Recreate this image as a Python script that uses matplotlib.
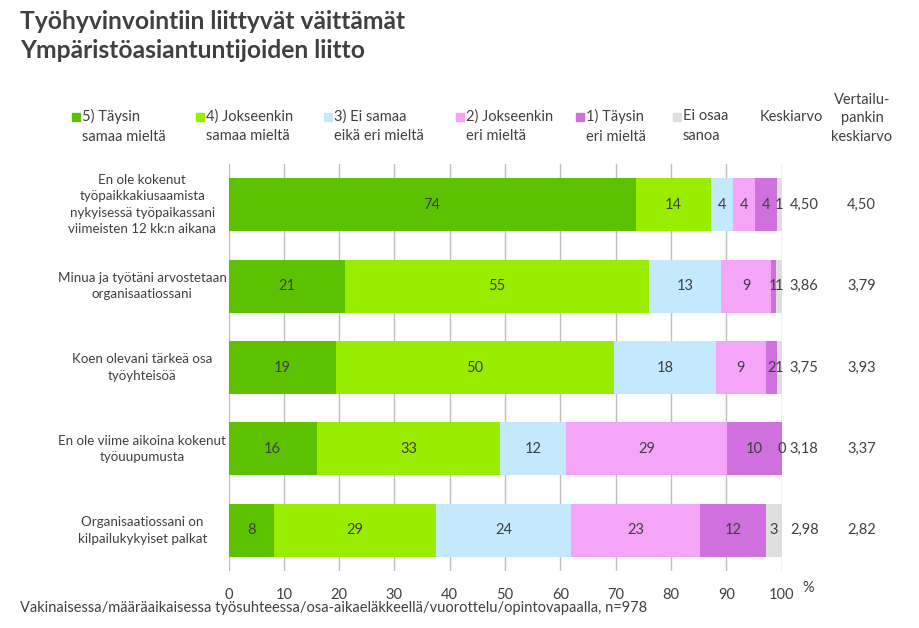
import matplotlib
matplotlib.use("Agg")
import matplotlib.pyplot as plt
from matplotlib.patches import Rectangle

plt.rcParams['font.family'] = ['Lato', 'DejaVu Sans']

categories = [
    "En ole kokenut\ntyöpaikkakiusaamista\nnykyisessä työpaikassani\nviimeisten 12 kk:n aikana",
    "Minua ja työtäni arvostetaan\norganisaatiossani",
    "Koen olevani tärkeä osa\ntyöyhteisöä",
    "En ole viime aikoina kokenut\ntyöuupumusta",
    "Organisaatiossani on\nkilpailukykyiset palkat",
]
taysin_samaa = [73.6, 21.1, 19.4, 16.0, 8.2]
jokseenkin_samaa = [13.6, 54.9, 50.4, 33.1, 29.4]
ei_samaa_eika_eri = [4.0, 13.1, 18.3, 12.0, 24.4]
jokseenkin_eri = [4.0, 9.0, 9.1, 29.1, 23.2]
taysin_eri = [3.9, 0.9, 1.9, 9.8, 12.0]
ei_osaa = [0.9, 1.0, 0.9, 0.0, 2.8]
keskiarvo = [4.50, 3.86, 3.75, 3.18, 2.98]
vertailu_keskiarvo = [4.50, 3.79, 3.93, 3.37, 2.82]

series = [taysin_samaa, jokseenkin_samaa, ei_samaa_eika_eri,
          jokseenkin_eri, taysin_eri, ei_osaa]
legend_labels = ["5) Täysin\nsamaa mieltä", "4) Jokseenkin\nsamaa mieltä",
                 "3) Ei samaa\neikä eri mieltä", "2) Jokseenkin\neri mieltä",
                 "1) Täysin\neri mieltä", "Ei osaa\nsanoa"]
colors = ["#5CC200", "#99EE00", "#C4E8FC", "#F4A5F8", "#D070DE", "#DEDEDE"]
text_color = "#404040"

W, H = 919, 628
fig = plt.figure(figsize=(W / 100, H / 100), dpi=100)
ax = fig.add_axes([228.5 / W, 1 - 571 / H, 553 / W, 407 / H])

y = list(range(len(categories)))
left = [0.0] * len(categories)
for vals, col in zip(series, colors):
    ax.barh(y, vals, left=left, height=0.65, color=col, zorder=2)
    for i, v in enumerate(vals):
        ax.text(left[i] + v / 2, i, f"{v:.0f}", ha='center', va='center',
                fontsize=10.5, color=text_color, zorder=3)
    left = [l + v for l, v in zip(left, vals)]

ax.set_xlim(0, 100)
ax.set_ylim(len(categories) - 0.5, -0.5)
ax.set_xticks(range(0, 101, 10))
ax.set_yticks([])
ax.grid(axis='x', color='#BFBFBF', linewidth=1, zorder=0)
ax.tick_params(axis='x', length=0, labelsize=10.5, labelcolor=text_color, pad=12)
for s in ax.spines.values():
    s.set_visible(False)
fig.text(808 / W, 1 - 588 / H, "%", fontsize=10.5, color=text_color, ha='center', va='center')

for i, cat in enumerate(categories):
    ax.text(-15.6, i, cat, ha='center', va='center', fontsize=9.6,
            color=text_color, linespacing=1.45, clip_on=False)
    ax.text(104.1, i, f"{keskiarvo[i]:.2f}".replace('.', ','), ha='center',
            va='center', fontsize=10.5, color=text_color, clip_on=False)
    ax.text(114.5, i, f"{vertailu_keskiarvo[i]:.2f}".replace('.', ','), ha='center',
            va='center', fontsize=10.5, color=text_color, clip_on=False)

# legend drawn by hand
sq_x = [72, 196, 324, 456, 576, 673]
for sx, lab, col in zip(sq_x, legend_labels, colors):
    fig.patches.append(Rectangle((sx / W, 1 - 121 / H), 8 / W, 8 / H,
                                 transform=fig.transFigure, color=col))
    fig.text((sx + 10) / W, 1 - 109 / H, lab, ha='left', va='top',
             fontsize=10.5, color=text_color, linespacing=1.55)
fig.text(791 / W, 1 - 117 / H, "Keskiarvo", ha='center', va='center',
         fontsize=10.5, color=text_color)
fig.text(862 / W, 1 - 93 / H, "Vertailu-\npankin\nkeskiarvo", ha='center', va='top',
         fontsize=10.5, color=text_color, linespacing=1.4)

fig.text(20 / W, 1 - 10 / H, "Työhyvinvointiin liittyvät väittämät\nYmpäristöasiantuntijoiden liitto",
         ha='left', va='top', fontsize=17.7, fontweight='bold', color=text_color,
         linespacing=1.3)
fig.text(20 / W, 1 - 608 / H,
         "Vakinaisessa/määräaikaisessa työsuhteessa/osa-aikaeläkkeellä/vuorottelu/opintovapaalla, n=978",
         ha='left', va='center', fontsize=10.5, color=text_color)

fig.savefig("out.png", dpi=100)
